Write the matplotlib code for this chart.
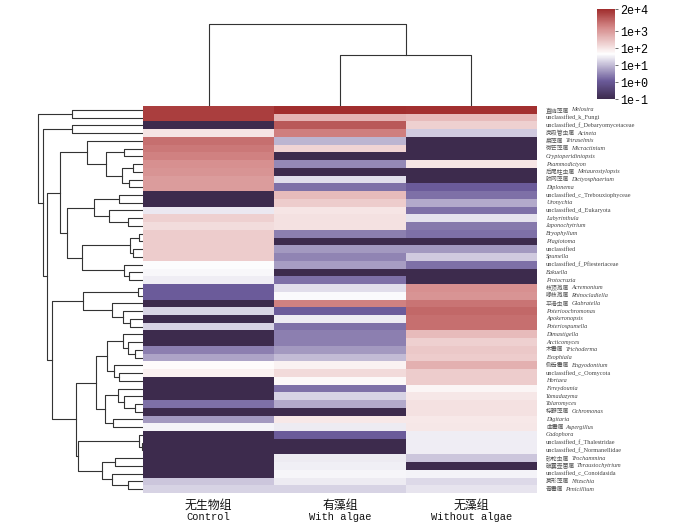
import numpy as np
import matplotlib
matplotlib.use('Agg')
import matplotlib.pyplot as plt
from matplotlib.colors import LinearSegmentedColormap, LogNorm
from matplotlib.transforms import offset_copy, blended_transform_factory

# groups (columns)
groups_cn = ['无生物组', '有藻组', '无藻组']
groups_en = ['Control', 'With algae', 'Without algae']

# taxa (rows), Chinese name part and latin part
taxa_cn = ['直链藻属', '', '', '壳吸管虫属', '扁藻属', '微芒藻属', '', '', '后尾柱虫属', '胶网藻属',
           '', '', '', '', '', '', '', '', '', '',
           '', '', '', '枝顶孢属', '喙枝孢属', '平滑虫属', '', '', '', '',
           '', '木霉属', '', '侧齿霉属', '', '', '', '', '', '棕鞭藻属',
           '', '曲霉属', '', '', '', '砂轮虫属', '破囊壶菌属', '', '菱形藻属', '青霉属']
taxa_latin = ['Melosira', 'unclassified_k_Fungi', 'unclassified_f_Debaryomycetaceae', 'Acineta',
              'Tetraselmis', 'Micractinium', 'Cryptoperidiniopsis', 'Psammodictyon',
              'Metaurostylopsis', 'Dictyosphaerium', 'Diplonema', 'unclassified_c_Trebouxiophyceae',
              'Uronychia', 'unclassified_d_Eukaryota', 'Labyrinthula', 'Japonochytrium',
              'Bryophyllum', 'Plagiotoma', 'unclassified', 'Spumella',
              'unclassified_f_Pfiesteriaceae', 'Bakuella', 'Protocruzia', 'Acremonium',
              'Rhinocladiella', 'Glabratella', 'Poterioochromonas', 'Apokeronopsis',
              'Poteriospumella', 'Dimastigella', 'Arcticomyces', 'Trichoderma',
              'Exophiala', 'Engyodontium', 'unclassified_c_Oomycota', 'Hortaea',
              'Fereydounia', 'Yamadazyma', 'Talaromyces', 'Ochromonas',
              'Digitaria', 'Aspergillus', 'Cadophora', 'unclassified_f_Thalestridae',
              'unclassified_f_Normanellidae', 'Trochammina', 'Thraustochytrium',
              'unclassified_c_Conoidasida', 'Nitzschia', 'Penicillium']

# abundances per group (0 = absent)
control = [12000, 12000, 0, 105, 3300, 2600, 2100, 1350, 1200, 930,
           930, 0, 0, 27, 190, 130, 210, 210, 210, 210,
           42, 38, 30, 1.15, 1.15, 0, 18, 0, 17, 0,
           0, 2.6, 5.8, 50, 71, 0, 0, 0, 1.9, 0,
           4.7, 35, 0, 0, 0, 0, 0, 0, 12.6, 17]
with_algae = [19000, 450, 5900, 2200, 8.5, 165, 0, 3.2, 0, 21,
              1.9, 350, 210, 100, 115, 115, 2.6, 0, 4.7, 2.9,
              5.2, 0, 1.9, 21, 40, 2100, 1.15, 28, 1.9, 2.6,
              2.6, 4.7, 10, 66, 138, 56, 1.9, 17, 6.9, 0,
              89, 28, 1.15, 0, 0, 28, 32, 36, 28, 17]
without_algae = [18000, 350, 190, 14, 0, 0, 0, 100, 0, 0,
                 1.15, 1.9, 6.9, 1.9, 23, 2.3, 1.9, 0, 4.7, 14,
                 1.9, 0, 0, 1350, 1200, 2900, 4100, 3300, 3300, 350,
                 190, 240, 210, 500, 210, 210, 60, 95, 115, 115,
                 89, 95, 30, 30, 30, 12.6, 0, 35, 19, 25]

# row clustering tree: (height, left, right), leaves are row indices
row_tree = (105.3,
            (71.3, 0, 1),
            (100.3,
             (71.3, 2, 3),
             (96.3,
              (83,
               (56.3, 4, (37, (19, 5, 6), (21.3, (10.3, 7, 8), (13.7, 9, 10)))),
               (76.3,
                (48.7, (24, 11, 12), (33.7, 13, (14.7, 14, 15))),
                (61.3, (13, (3.7, 16, 17), (9.7, 18, 19)), (19, 20, (13.7, 21, 22))))),
              (91.3,
               (59.7, (5, 23, 24), (31.3, 25, (20.3, 26, (13, 27, 28)))),
               (67,
                (47,
                 (35.7, (19.7, 29, (15.3, 30, (8, 31, 32))), (28.7, 33, (23.7, 34, 35))),
                 (37.7, (24.7, 36, (19, 37, (8, 38, 39))), (29.7, 40, 41))),
                (64.7,
                 (3.7, 42, (1.3, 43, 44)),
                 (40.7, (28, 45, 46), (31.3, 47, (15.3, 48, 49)))))))))
col_tree = (82, 0, (51, 1, 2))

line_col = '#333333'


def draw_tree(ax, node, side):
    if not isinstance(node, tuple):
        return node + 0.5, 0
    h, a, b = node
    p1, h1 = draw_tree(ax, a, side)
    p2, h2 = draw_tree(ax, b, side)
    if side == 'left':
        ax.plot([h1, h, h, h2], [p1, p1, p2, p2], color=line_col, lw=0.8)
    else:
        ax.plot([p1, p1, p2, p2], [h1, h, h, h2], color=line_col, lw=0.8)
    return (p1 + p2) / 2, h


cmap = LinearSegmentedColormap.from_list(
    'pr', [(0, '#3d2b4d'), (0.2, '#6b5b9a'), (0.5, '#ffffff'), (0.8, '#d48888'), (1, '#a02c2c')])
norm = LogNorm(vmin=0.1, vmax=2e4)

data = np.array([control, with_algae, without_algae], dtype=float).T
data = np.where(data > 0, data, 0.1)
n_rows = len(taxa_latin)

W, H = 700, 524
fig = plt.figure(figsize=(7, 5.24), dpi=100)

# heatmap
ax = fig.add_axes([143 / W, 1 - 493 / H, 394 / W, 387 / H])
mesh = ax.pcolormesh(np.arange(4), np.arange(n_rows + 1), data, cmap=cmap, norm=norm)
ax.set_xlim(0, 3)
ax.set_ylim(n_rows, 0)
ax.set_xticks([])
ax.set_yticks([])
for s in ax.spines.values():
    s.set_visible(False)

# row labels
btrans = blended_transform_factory(ax.transAxes, ax.transData)
for i, (cn, la) in enumerate(zip(taxa_cn, taxa_latin)):
    x0 = 9
    if cn:
        ax.text(1, i + 0.5, cn, transform=offset_copy(btrans, fig, x=x0, units='dots'),
                fontsize=4.2, family='Noto Sans CJK SC', color='#555555', va='center', ha='left')
        x0 += len(cn) * 5.8 + 2
    style = 'normal' if la.startswith('unclassified') else 'italic'
    ax.text(1, i + 0.5, la, transform=offset_copy(btrans, fig, x=x0, units='dots'),
            fontsize=4.5, family='Liberation Serif', style=style, color='#444444',
            va='center', ha='left')

# column labels
for j, (cn, en) in enumerate(zip(groups_cn, groups_en)):
    fig.text((143 + 394 * (j + 0.5) / 3) / W, 1 - 505 / H, cn, fontsize=8.6,
             family='Noto Sans CJK SC', ha='center', va='center', color='#111111')
    fig.text((143 + 394 * (j + 0.5) / 3) / W, 1 - 517 / H, en, fontsize=7.5,
             family='Liberation Mono', ha='center', va='center', color='#111111')

# row dendrogram
axr = fig.add_axes([30 / W, 1 - 493 / H, 113 / W, 387 / H])
draw_tree(axr, row_tree, 'left')
axr.set_xlim(113, 0)
axr.set_ylim(n_rows, 0)
axr.axis('off')

# column dendrogram
axc = fig.add_axes([143 / W, 1 - 106 / H, 394 / W, 96 / H])
draw_tree(axc, col_tree, 'top')
axc.set_xlim(0, 3)
axc.set_ylim(0, 96)
axc.axis('off')

# colorbar
cax = fig.add_axes([597 / W, 1 - 99 / H, 18 / W, 90 / H])
cb = fig.colorbar(mesh, cax=cax, ticks=[2e4, 1e3, 1e2, 1e1, 1e0, 1e-1])
cb.set_ticklabels(['2e+4', '1e+3', '1e+2', '1e+1', '1e+0', '1e-1'])
cb.outline.set_visible(False)
cb.ax.minorticks_off()
cb.ax.tick_params(labelsize=8.5, length=2, width=0.6, color='#555555', pad=2)
for t in cb.ax.get_yticklabels():
    t.set_family('Liberation Mono')

fig.savefig('out.png', dpi=100)
